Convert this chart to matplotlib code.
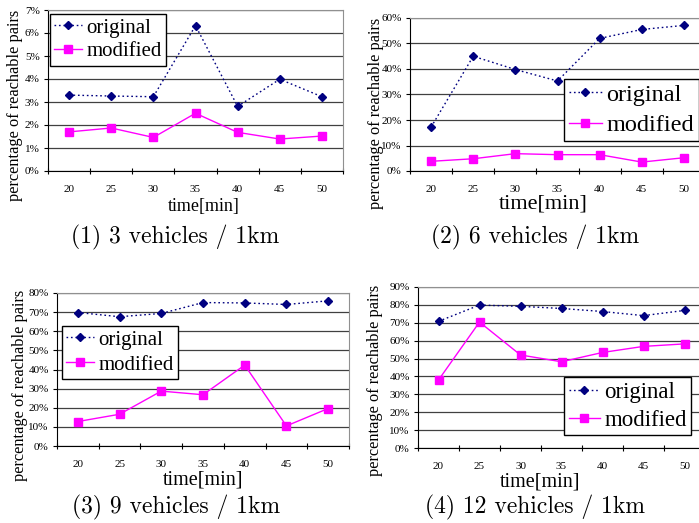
import numpy as np
import matplotlib
matplotlib.use("Agg")
import matplotlib.pyplot as plt
from matplotlib.ticker import FuncFormatter, FixedLocator

W, H = 699, 523

times = ["20", "25", "30", "35", "40", "45", "50"]

orig_1 = [3.30, 3.26, 3.23, 6.32, 2.81, 3.99, 3.23]
mod_1 = [1.70, 1.87, 1.46, 2.51, 1.68, 1.39, 1.52]

orig_2 = [17.2, 45.0, 39.8, 35.3, 52.0, 55.5, 57.1]
mod_2 = [3.8, 4.8, 6.8, 6.4, 6.4, 3.5, 5.2]

orig_3 = [69.8, 67.6, 69.3, 75.0, 74.8, 74.0, 75.9]
mod_3 = [12.8, 16.6, 28.7, 26.8, 42.3, 10.5, 19.6]

orig_4 = [70.8, 79.9, 79.2, 78.0, 76.3, 74.0, 76.9]
mod_4 = [38.0, 70.4, 52.0, 48.2, 53.4, 56.8, 58.2]

captions = ["(1) 3 vehicles / 1km", "(2) 6 vehicles / 1km",
            "(3) 9 vehicles / 1km", "(4) 12 vehicles / 1km"]

serif = "Liberation Serif"

# panel layout in pixels: axes box, y max/step, legend corner, text positions
panels = [
    dict(orig=orig_1, mod=mod_1, box=(48, 10, 343, 171), ymax=7, ystep=1,
         leg=(50, 14), legfs=15, ls=0.2, xlfs=13, xl=(204, 207), yl=(15, 105), cap=(175, 237)),
    dict(orig=orig_2, mod=mod_2, box=(410, 18, 705, 171), ymax=60, ystep=10,
         leg=(564, 79), legfs=17.5, ls=0.35, xlfs=16, xl=(543, 204), yl=(376, 113), cap=(535, 237)),
    dict(orig=orig_3, mod=mod_3, box=(57, 293, 349, 446), ymax=80, ystep=10,
         leg=(62, 326), legfs=15, ls=0.25, xlfs=14.5, xl=(203, 480), yl=(20, 385), cap=(176, 507)),
    dict(orig=orig_4, mod=mod_4, box=(418, 287, 705, 448), ymax=90, ystep=10,
         leg=(564, 377), legfs=16.5, ls=0.3, xlfs=14.5, xl=(540, 482), yl=(375, 380), cap=(535, 507)),
]

fig = plt.figure(figsize=(W / 100, H / 100), dpi=100)

def fx(x):
    return x / W

def fy(y):
    return 1 - y / H

for i, p in enumerate(panels):
    l, t, r, b = p["box"]
    ax = fig.add_axes([fx(l), fy(b), (r - l) / W, (b - t) / H])
    x = np.arange(len(times))
    ax.plot(x, p["orig"], color="#000080", linestyle=(0, (1.2, 2)), linewidth=1,
            marker="D", markersize=3.6, label="original", zorder=3)
    ax.plot(x, p["mod"], color="#ff00ff", linestyle="-", linewidth=1,
            marker="s", markersize=5.5, label="modified", zorder=3)

    ax.set_xlim(-0.5, len(times) - 0.5)
    ax.set_ylim(0, p["ymax"])
    yt = np.arange(0, p["ymax"] + 0.1, p["ystep"])
    ax.set_yticks(yt)
    ax.yaxis.set_major_formatter(FuncFormatter(lambda v, _: f"{v:.0f}%"))
    ax.yaxis.grid(True, color="#404040", linewidth=0.9)
    ax.set_axisbelow(True)

    ax.set_xticks(x)
    ax.set_xticklabels(times)
    ax.xaxis.set_minor_locator(FixedLocator(np.arange(-0.5, len(times), 1)))
    ax.tick_params(axis="x", which="major", length=0, pad=10)
    ax.tick_params(axis="x", which="minor", length=4, direction="inout", width=0.8)
    ax.tick_params(axis="y", length=3, width=0.8, pad=3)
    for lab in ax.get_xticklabels() + ax.get_yticklabels():
        lab.set_fontfamily(serif)
        lab.set_fontsize(8)

    ax.spines["left"].set_color("black")
    ax.spines["bottom"].set_color("black")
    ax.spines["top"].set_color("#909090")
    ax.spines["right"].set_color("#909090")

    leg = ax.legend(loc="upper left", bbox_to_anchor=(fx(p["leg"][0]), fy(p["leg"][1])),
                    bbox_transform=fig.transFigure, frameon=True, fancybox=False,
                    framealpha=1, edgecolor="black", borderpad=0.2, labelspacing=p["ls"],
                    handlelength=1.35, handletextpad=0.2, borderaxespad=0,
                    prop={"family": serif, "size": p["legfs"]})
    leg.get_frame().set_linewidth(1)

    fig.text(fx(p["xl"][0]), fy(p["xl"][1]), "time[min]", family=serif,
             fontsize=p["xlfs"], ha="center", va="center")
    fig.text(fx(p["yl"][0]), fy(p["yl"][1]), "percentage of reachable pairs",
             family=serif, fontsize=11.8, rotation=90, ha="center", va="center")
    fig.text(fx(p["cap"][0]), fy(p["cap"][1]), captions[i], family="cmr10",
             fontsize=17, ha="center", va="center")

fig.savefig("out.png", dpi=100)
